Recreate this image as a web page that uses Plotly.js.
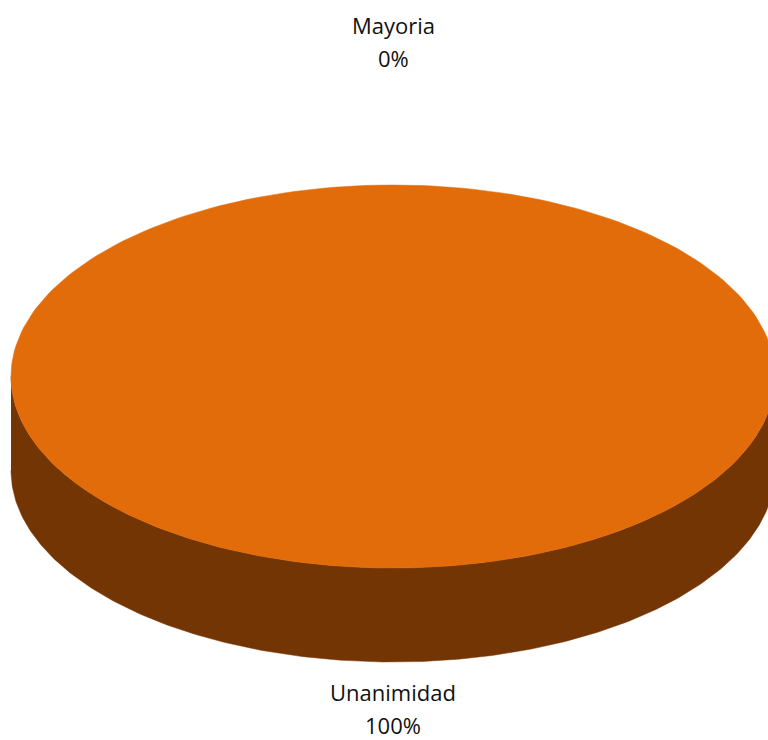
<!DOCTYPE html>
<html>
<head>
<meta charset="utf-8">
<script src="https://cdn.plot.ly/plotly-3.0.1.min.js"></script>
<style>html,body{margin:0;padding:0;background:#fff;}#chart{width:768px;height:740px;}</style>
</head>
<body>
<div id="chart"></div>
<script>
// Data
var categories = ["Mayoria", "Unanimidad"];
var values = [0, 100];
var topColors = ["#4F81BD", "#E36C0A"];
var sideColors = ["#2C4D75", "#743505"];

// Geometry (style)
var CX = 393, CY = 376.5, RX = 382, RY = 191.5, DEPTH = 94;
var N = 240;
var LABEL_FONT = {family: "Open Sans, Noto Sans, sans-serif", size: 22, color: "#111111"};

var total = values.reduce(function(a, b){ return a + b; }, 0);
var traces = [];
var annotations = [];

function pt(angDeg, dy) {
  var a = angDeg * Math.PI / 180;
  return [CX + RX * Math.cos(a), CY - RY * Math.sin(a) + (dy || 0)];
}

// slices go clockwise from 12 o'clock
var start = 90;
var slices = [];
values.forEach(function(v, i) {
  var sweep = total ? v / total * 360 : 0;
  slices.push({i: i, a0: start, a1: start - sweep, mid: start - sweep / 2});
  start -= sweep;
});

// Side walls (front half only: angles between -180 and 0)
slices.forEach(function(s) {
  if (s.a0 === s.a1) return;
  var lo = Math.max(s.a1, -180), hi = Math.min(s.a0, 0);
  if (hi <= lo) return;
  var xs = [], ys = [], k, p;
  for (k = 0; k <= N; k++) {
    p = pt(lo + (hi - lo) * k / N, 0);
    xs.push(p[0]); ys.push(p[1]);
  }
  for (k = N; k >= 0; k--) {
    p = pt(lo + (hi - lo) * k / N, DEPTH);
    xs.push(p[0]); ys.push(p[1]);
  }
  traces.push({type: "scatter", mode: "lines", x: xs, y: ys, fill: "toself",
    fillcolor: sideColors[s.i], line: {width: 0.5, color: sideColors[s.i]},
    hoverinfo: "skip", showlegend: false});
});

// Top faces
slices.forEach(function(s) {
  if (s.a0 === s.a1) return;
  var xs = [], ys = [];
  var full = Math.abs(s.a0 - s.a1) >= 360;
  if (!full) { xs.push(CX); ys.push(CY); }
  for (var k = 0; k <= N; k++) {
    var p = pt(s.a0 + (s.a1 - s.a0) * k / N, 0);
    xs.push(p[0]); ys.push(p[1]);
  }
  traces.push({type: "scatter", mode: "lines", x: xs, y: ys, fill: "toself",
    fillcolor: topColors[s.i], line: {width: 0.5, color: topColors[s.i]},
    name: categories[s.i], hoverinfo: "name", showlegend: false});
});

// Labels (two lines: category name and percentage)
slices.forEach(function(s) {
  var p = pt(s.mid, 0);
  var up = Math.sin(s.mid * Math.PI / 180) > 0;
  var nameY = up ? p[1] - 160 : p[1] + DEPTH + 30;
  var pctY = up ? p[1] - 127 : p[1] + DEPTH + 63;
  var pct = Math.round(total ? values[s.i] / total * 100 : 0) + "%";
  [[categories[s.i], nameY], [pct, pctY]].forEach(function(t) {
    annotations.push({
      x: p[0], y: t[1], xref: "x", yref: "y", showarrow: false,
      xanchor: "center", yanchor: "middle",
      text: t[0], font: LABEL_FONT, align: "center"
    });
  });
});

var layout = {
  width: 768, height: 740,
  margin: {l: 0, r: 0, t: 0, b: 0},
  paper_bgcolor: "#ffffff", plot_bgcolor: "#ffffff",
  xaxis: {range: [0, 768], visible: false, fixedrange: true},
  yaxis: {range: [740, 0], visible: false, fixedrange: true},
  annotations: annotations,
  showlegend: false
};

Plotly.newPlot("chart", traces, layout, {displayModeBar: false, staticPlot: true});
</script>
</body>
</html>
